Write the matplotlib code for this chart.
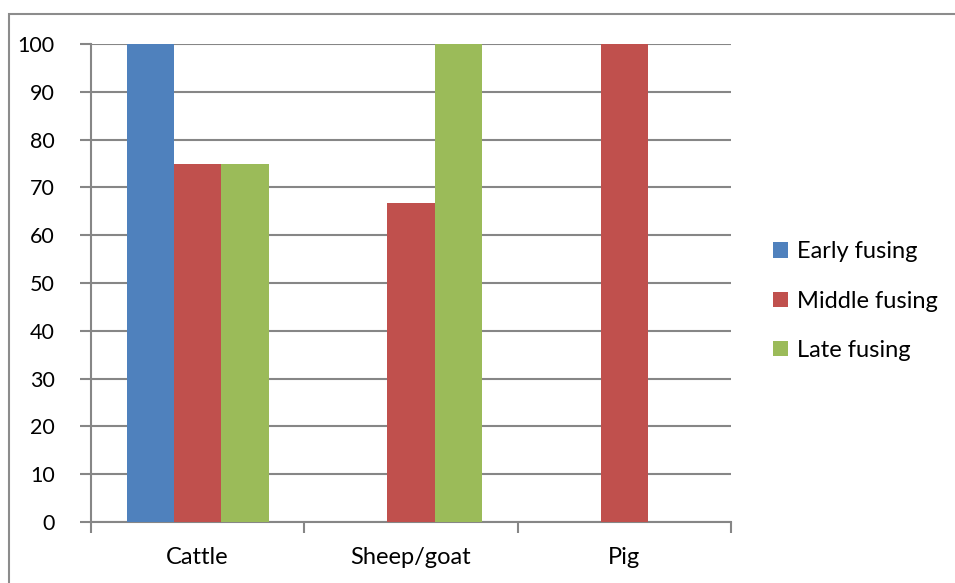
import matplotlib
matplotlib.use("Agg")
import matplotlib.pyplot as plt
import matplotlib.patches as patches
import numpy as np

# data
categories = ["Cattle", "Sheep/goat", "Pig"]
series_names = ["Early fusing", "Middle fusing", "Late fusing"]
early = [100, 0, 0]
middle = [75, 66.7, 100]
late = [75, 100, 0]
yticks = [0, 10, 20, 30, 40, 50, 60, 70, 80, 90, 100]

colors = ["#4F81BD", "#C0504D", "#9BBB59"]
grid_gray = "#868686"

plt.rcParams["font.family"] = ["Lato", "DejaVu Sans"]

fig = plt.figure(figsize=(9.55, 5.83), dpi=100)
ax = fig.add_axes([91 / 955, 1 - 522 / 583, 640 / 955, 478 / 583])

# outer chart frame, right and bottom run off the picture
frame = patches.Rectangle((8.5 / 955, -0.1), 1.1, 1.1 - 14.5 / 583,
                          transform=fig.transFigure, fill=False,
                          edgecolor="#8C8C8C", linewidth=1.5, zorder=0)
fig.patches.append(frame)

x = np.arange(len(categories))
width = 0.222
for i, (vals, name) in enumerate(zip([early, middle, late], series_names)):
  ax.bar(x + (i - 1) * width, vals, width, color=colors[i], label=name, zorder=3)

ax.set_xlim(-0.5, len(categories) - 0.5)
ax.set_ylim(0, 100)
ax.set_yticks(yticks)
ax.yaxis.grid(True, color=grid_gray, linewidth=1.5, zorder=0)
ax.set_axisbelow(True)

ax.set_xticks(x)
ax.set_xticklabels(categories)
ax.set_xticks(np.arange(-0.5, len(categories)), minor=True)
ax.tick_params(axis="x", which="major", length=0, pad=18, labelsize=17)
ax.tick_params(axis="x", which="minor", length=8, width=1.5, color=grid_gray, direction="out")
ax.tick_params(axis="y", length=8, width=1.5, color=grid_gray, pad=18, labelsize=15.5)

for side in ["top", "right"]:
  ax.spines[side].set_visible(False)
for side in ["left", "bottom"]:
  ax.spines[side].set_color(grid_gray)
  ax.spines[side].set_linewidth(1.5)

fig.legend(loc="center left", bbox_to_anchor=(773 / 955, 1 - 301 / 583),
           frameon=False, fontsize=17, handlelength=0.62, handleheight=0.62,
           handletextpad=0.4, labelspacing=1.2, borderpad=0, borderaxespad=0)

fig.savefig("out.png", dpi=100)
